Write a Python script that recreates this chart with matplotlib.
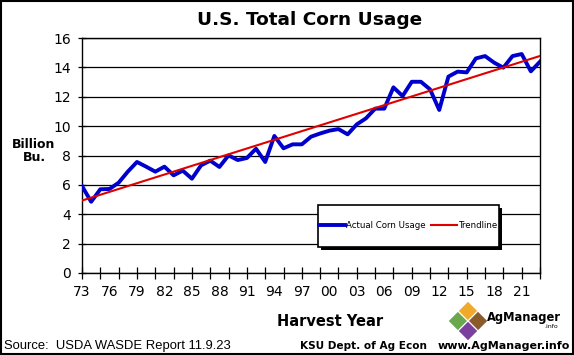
import numpy as np
import matplotlib
matplotlib.use("Agg")
import matplotlib.pyplot as plt
from matplotlib.patches import Polygon, Rectangle

# harvest years and total corn usage (billion bushels)
years = list(range(1973, 2024))
usage = [5.92, 4.85, 5.70, 5.72, 6.15, 6.90, 7.56, 7.24, 6.90, 7.24,
         6.65, 6.97, 6.42, 7.33, 7.65, 7.22, 8.01, 7.69, 7.83, 8.46,
         7.56, 9.33, 8.49, 8.76, 8.76, 9.28, 9.50, 9.69, 9.80, 9.44,
         10.12, 10.53, 11.19, 11.19, 12.64, 12.05, 13.02, 13.02, 12.50, 11.10,
         13.37, 13.71, 13.66, 14.61, 14.77, 14.32, 13.98, 14.77, 14.91, 13.73,
         14.39]
tick_years = list(range(1973, 2022, 3))
tick_labels = ["%02d" % (y % 100) for y in tick_years]

x = np.array(years)
y = np.array(usage)
slope, intercept = np.polyfit(x, y, 1)
trend = slope * x + intercept

W, H = 574, 355
fig = plt.figure(figsize=(W / 100, H / 100), dpi=100)
ax = fig.add_axes([82 / W, 82 / H, 458 / W, 235 / H])

ax.plot(x, y, color="#0000cc", lw=2.8, label="Actual Corn Usage", zorder=3)
ax.plot(x, trend, color="#e00000", lw=1.5, label="Trendline", zorder=4)

ax.set_xlim(1973, 2023)
ax.set_ylim(0, 16)
ax.set_yticks(range(0, 17, 2))
ax.yaxis.grid(True, color="black", lw=0.9)
ax.set_axisbelow(True)

# labels every third year, tick marks every other year
ax.xaxis.remove_overlapping_locs = False
ax.set_xticks(tick_years)
ax.set_xticklabels(tick_labels)
ax.tick_params(axis="x", which="major", length=0, pad=9, labelsize=10)
ax.set_xticks(range(1973, 2024, 2), minor=True)
ax.tick_params(axis="x", which="minor", direction="inout", length=8, width=0.9)
ax.tick_params(axis="y", direction="inout", length=6, width=0.9, labelsize=10, pad=5)

for s in ax.spines.values():
    s.set_color("black")
    s.set_linewidth(1.0)

# legend box with shadow, drawn in pixel-based axes fractions
def ax_frac(px, py):
    return (px - 82) / 458, (273 - py) / 235

x0, y1 = ax_frac(318, 205)
x1, y0 = ax_frac(499, 247)
sx, sy = 3 / 458, 3 / 235
ax.add_patch(Rectangle((x0 + sx, y0 - sy), x1 - x0, y1 - y0, transform=ax.transAxes,
                       facecolor="black", edgecolor="none", zorder=5))
ax.add_patch(Rectangle((x0, y0), x1 - x0, y1 - y0, transform=ax.transAxes,
                       facecolor="white", edgecolor="black", lw=1.2, zorder=6))
leg = ax.legend(loc="center", bbox_to_anchor=((x0 + x1) / 2, (y0 + y1) / 2),
                ncol=2, fontsize=6.2, frameon=False, handlelength=3.0,
                handletextpad=0.2, columnspacing=0.6, borderpad=0)
leg.set_zorder(7)

fig.text(310 / W, 1 - 20 / H, "U.S. Total Corn Usage", ha="center", va="center",
         fontsize=13.3, fontweight="bold")
fig.text(34 / W, 1 - 151 / H, "Billion\nBu.", ha="center", va="center",
         fontsize=9, fontweight="bold", linespacing=1.05)
fig.text(330 / W, 1 - 322 / H, "Harvest Year", ha="center", va="center",
         fontsize=10.5, fontweight="bold")
fig.text(4 / W, 1 - 346 / H, "Source:  USDA WASDE Report 11.9.23", ha="left", va="center",
         fontsize=9.4, family="Liberation Sans")
fig.text(300 / W, 1 - 346 / H, "KSU Dept. of Ag Econ", ha="left", va="center",
         fontsize=7.6, fontweight="bold")
fig.text(570 / W, 1 - 346 / H, "www.AgManager.info", ha="right", va="center",
         fontsize=8, fontweight="bold")

# AgManager logo: four diamonds
def diamond(cx, cy, r, color):
    pts = [(cx - r, cy), (cx, cy - r), (cx + r, cy), (cx, cy + r)]
    pts = [(px / W, 1 - py / H) for px, py in pts]
    fig.patches.append(Polygon(pts, closed=True, transform=fig.transFigure,
                               facecolor=color, edgecolor="white", lw=0.8))

diamond(458, 321, 10, "#6aa84f")
diamond(468, 311, 10, "#f1a92b")
diamond(478, 321, 10, "#8b5a2b")
diamond(468, 331, 10, "#7b3f9e")
fig.text(487 / W, 1 - 318 / H, "AgManager", ha="left", va="center",
         fontsize=8.3, fontweight="bold")
fig.text(558 / W, 1 - 327 / H, ".info", ha="right", va="center", fontsize=4.5)

fig.patches.append(Rectangle((0.002, 0.003), 0.996, 0.994, transform=fig.transFigure,
                             fill=False, edgecolor="black", lw=1.5))

fig.savefig("out.png", dpi=100)
